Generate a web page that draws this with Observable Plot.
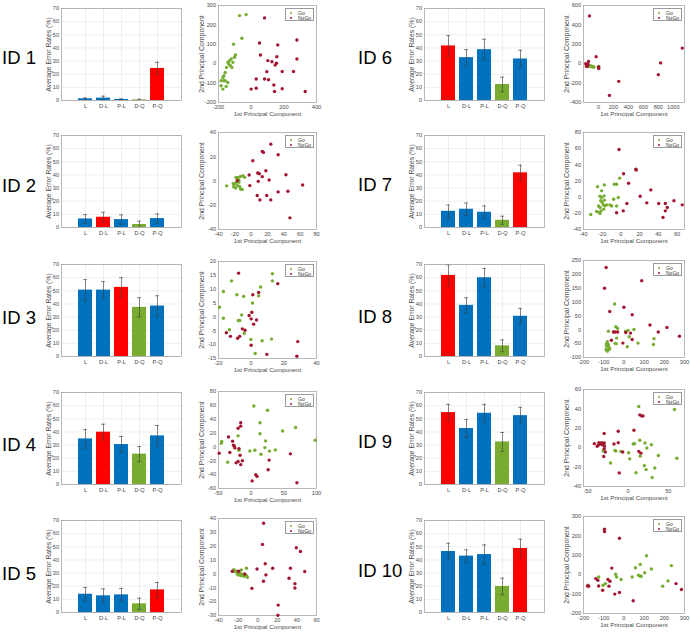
<!DOCTYPE html>
<html><head><meta charset="utf-8">
<script src="https://cdn.jsdelivr.net/npm/d3@7"></script>
<script src="https://cdn.jsdelivr.net/npm/@observablehq/plot@0.6"></script>
<style>
body{margin:0;background:#fff;}
#fig{position:relative;width:690px;height:634px;overflow:hidden;background:#fff;font-family:"Liberation Sans",Arial,Helvetica,sans-serif;}
.panel{position:absolute;}
.idlabel{position:absolute;font-size:18.5px;line-height:19px;color:#000;white-space:nowrap;transform:translateY(-50%);}
.legend{position:absolute;width:29px;height:13px;border:0.6px solid #9a9a9a;background:#fff;box-sizing:border-box;font-size:5px;color:#333;}
.legend .row{position:absolute;left:0;height:6px;line-height:6px;white-space:nowrap;}
.legend .dot{position:absolute;left:4px;top:2px;width:2px;height:2px;border-radius:50%;}
.legend .txt{position:absolute;left:12px;top:0;}
</style></head><body><div id="fig"></div>
<script>
// ---------------- data ----------------
const subjects = ["ID 1","ID 2","ID 3","ID 4","ID 5","ID 6","ID 7","ID 8","ID 9","ID 10"];
const conditions = ["L","D-L","P-L","D-Q","P-Q"];
const errorRate = [
  [1.3,1.8,0.8,0.5,24.4],
  [6.5,7.8,6.0,2.3,6.8],
  [50.5,50.5,52.6,37.4,38.4],
  [34.7,39.8,30.4,23.1,37.0],
  [13.9,12.7,13.4,6.6,17.2],
  [41.5,32.6,38.7,12.2,31.6],
  [12.3,13.9,11.6,5.5,41.6],
  [61.7,38.9,59.9,8.1,30.6],
  [54.7,42.6,54.2,32.4,52.4],
  [46.4,42.9,44.1,19.8,48.7]
];
const errorBar = [
  [0.7,1.5,0.5,0.5,4.6],
  [3.3,3.8,3.6,2.5,3.5],
  [8.0,6.4,7.3,7.3,7.8],
  [7.1,6.1,6.1,5.8,7.9],
  [5.1,5.3,4.9,4.3,5.6],
  [7.9,6.1,7.9,5.6,6.6],
  [4.8,4.7,4.8,3.1,5.8],
  [8.0,5.8,7.1,4.5,6.0],
  [6.3,6.8,6.8,7.2,6.3],
  [6.3,4.8,7.4,6.3,7.1]
];
const rateTicks = [0,10,20,30,40,50,60,70];
const rateDomain = [0,70];

const goPoints = [
  [[-71,248],[-31,253],[-57,131],[-108,100],[-96,45],[-102,33],[-112,7],[-122,24],[-133,16],[-137,-2],[-127,-10],[-118,-19],[-143,7],[-151,-19],[-159,-45],[-167,-62],[-159,-88],[-173,-71],[-184,-88],[-143,-97],[-184,-114],[-173,-131],[-153,-117],[-167,-88]],
  [[-30,-4],[-18.6,3],[-17,1.6],[-16,3],[-13,3.8],[-10,4.4],[-8,3],[-20,-2.5],[-21.5,-4.7],[-19,-5.8],[-16.5,-3.8],[-14,-4.7],[-13,-6.6],[-11,-7],[-15,-1],[-18,-1],[-22,-2],[-15,0.8]],
  [[-19.4,3.5],[-17,9.2],[-17,-0.5],[-12,13],[-13.3,-4.6],[-8.75,8],[-7.9,-1.3],[-7,-1.3],[-4.6,7.4],[-5.8,0.7],[-4.2,-6],[-0.2,-8.1],[0.8,5],[4.6,7.6],[5.8,10.8],[6.7,-8.6],[2.5,-13.2],[13,15.6],[13,13],[12.5,-8]],
  [[4,59],[25,53],[-45.6,5.3],[-45,8],[13.5,35],[13.5,19],[68,28],[48,23],[98,9.7],[22,8.7],[21,-1],[28,-6],[37,-4.3],[5.7,-4.8],[-2,-5.8],[15,-10.6],[-36,-22],[-20,16],[-18.7,-4.8]],
  [[-24.4,3.1],[-22,2.2],[-20.2,1.2],[-18.5,0.5],[-16.7,0],[-15,-0.5],[-13.2,-0.7],[-11.5,-1.2],[-10.5,-2.4],[-11.5,4.1],[-16.7,2.9],[-23.7,1.7],[-20.9,0],[-19.5,-0.7],[-17.4,-1.2],[-16,-1.2],[-13.9,-1.7]],
  [[-150,-15],[-130,-20],[-120,-25],[-110,-22],[-100,-30],[-90,-25],[-80,-30],[-75,-35],[-70,-28],[-60,-35],[5,-28],[0,-35]],
  [[-32.3,-21.4],[-25,13],[-20.6,7.8],[-17.7,15.2],[-7,16],[-4.6,16],[-1.4,23.5],[-7.8,-2.5],[-2.8,-0.4],[-4.6,-11],[-22.3,1.2],[-20.6,-0.4],[-18,1.6],[-21.6,-4.5],[-19.9,-6.6],[-18.8,-9.5],[-24,-11],[-22.3,-12.8],[-17,-10.7],[-15.2,-9.5],[-11.7,-9.5],[-9.9,-11],[-21.3,-16.9],[-18.4,-14.8],[-25.9,-17.7],[-23.4,-19],[-22.3,-20],[-17.7,-3.7]],
  [[-46,93],[-40,11],[-31,5],[-77,-5],[-43,-49],[-38,-50],[-82,-43],[-86,-50],[-77,-53],[-86,-59],[-74,-62],[-77,-71],[-70,-69],[-82,-77],[-88,-71],[9,-5],[21,-2],[50,1],[26,-25],[17,-61],[70,-48],[149,-32],[146,-53],[-36,-30]],
  [[13.4,42.5],[57.6,39.4],[-16,-2.8],[-21.6,-15.7],[-8.7,-3.8],[0.9,-5.2],[2.2,-11.5],[8.2,4.2],[6.5,3.8],[14.7,7.7],[21.2,4.9],[29,3.1],[23.4,-0.3],[37.7,-8],[60.6,-10.8],[33.3,-20.9],[22.5,-22.6],[20.3,-18.5],[10,-25.8],[15.2,-8.7],[30,-30.7],[-15,-3.5],[-30.7,-3.1]],
  [[-177,-54],[-125,-12],[-91,-46],[-41,2],[-36,-12],[-14,-25],[41,-12],[57,36],[72,-3],[86,-8],[81,53],[103,10],[112,98],[136,29],[81,-8],[192,-59],[218,-32],[235,47],[-103,-54]]
];
const noGoPoints = [
  [[82,236],[51,107],[57,45],[163,97],[280,122],[102,16],[127,10],[157,36],[155,2],[147,-7],[96,-41],[190,-40],[259,-40],[31,-79],[82,-79],[106,-83],[139,-110],[190,-129],[31,-126],[0,-131],[143,-143],[331,-143],[280,24]],
  [[24,30.4],[13.6,24.4],[15,23.6],[33,21.6],[2,16.7],[18,8.5],[8,6.6],[10,6],[-2.5,5],[42.6,5.2],[13.6,3.6],[22,0.8],[8.7,-0.3],[-1.7,-3.8],[63,-3.3],[33,-9],[45,-8.5],[7.4,-12],[19,-12],[10.7,-15.6],[24,-15.6],[47.5,-30.4],[-17,0.3]],
  [[-7.7,15.8],[-15.2,-5.7],[-12.7,-7],[-8.3,-7.7],[-7,-7],[-5.4,-4.3],[-3.75,-4.8],[-1.25,0.5],[0.4,1.7],[1,8],[4.6,8.8],[0,-0.7],[1.5,-2.6],[3.3,-1.1],[0,-10.2],[9.6,-13.5],[16.3,12],[28.5,-8.9],[28,-14.2]],
  [[-49,-9],[-34.7,14.5],[-32.6,-8],[-28.5,8.2],[-27,2.4],[-25,-1.4],[-26,1.4],[-23,-23],[-20,-21],[-20,27],[-16,35],[-16,30],[-18.7,-2.4],[-17,-12],[-16,-25.6],[-13.5,-20],[1.5,-49],[7,-40],[9,-42.5],[26,-33],[27.5,-19],[60,-10],[70,-51.7]],
  [[-26,1.9],[-19.5,1.9],[-13.2,0],[6,36.6],[4.9,21.3],[7.7,7.3],[-0.7,3.6],[15.3,4.1],[8.4,-0.7],[5.9,-5.3],[-5.9,-10.4],[20.9,-22.5],[20.6,-29.8],[39.4,18.9],[43.6,16.2],[33.4,4.1],[48,1.7],[32,-3.1],[38,-7],[38,-10.2]],
  [[-120,493],[-31,71],[-133,22],[-170,0],[-155,-20],[-160,-25],[-150,-30],[-140,-5],[0,-33],[4,-50],[1120,161],[831,8],[800,-113],[271,-182],[147,-327]],
  [[-2,59],[2.8,29],[16,34.6],[16.3,33.7],[8.2,17.3],[32,9],[20.6,1.2],[27.7,-7],[6.4,-7.8],[-4.6,-19.3],[2.5,-16.9],[40.4,-7.8],[47.5,-7.8],[49.6,-12.8],[47.5,-16.9],[45,-25],[56.7,-4.5],[65.6,-9.5]],
  [[-88,225],[-96,150],[88,177],[-70,66],[0,81.5],[41,54],[129,17],[213,8],[170,-8],[275,-23],[-52,-8],[-43,-8],[-31,-8],[33,-12],[9,-10],[41,-35],[-5,-48],[-62,-38]],
  [[-41.6,4.2],[-37,2.4],[-36,5.2],[-38,1.4],[-35,3.5],[-32.5,5.2],[-31.6,3.1],[-29.4,4.9],[-29,1.7],[-29.4,-1],[-28,-4.5],[-30,-9],[-29.4,14.6],[-12,17],[-17.3,3.8],[-12,5.2],[7.4,18],[14.7,33.8],[17,32.8],[18.6,32.8],[-6.5,-4.5],[13.4,-3.8],[16,-5.6],[-10.8,-26]],
  [[-96,234],[-96,222],[-22,188],[-60,34],[-125,-58],[-180,-58],[-174,-59],[-139,-20],[-129,-29],[-79,-25],[-69,-34],[-74,-59],[-105,-80],[-45,-100],[-22,-92],[46,-134],[258,-46],[285,-76]]
];
const pcXDomain = [[-200,400],[-40,80],[-20,40],[-50,100],[-40,60],[-200,1150],[-40,68],[-200,300],[-55,70],[-200,300]];
const pcYDomain = [[-200,300],[-40,40],[-15,20],[-60,80],[-30,40],[-400,600],[-40,80],[-100,250],[-40,60],[-200,300]];
const pcXTicks = [[-200,0,200,400],[-40,-20,0,20,40,60,80],[-20,0,20,40],[-50,0,50,100],[-40,-20,0,20,40,60],[0,200,400,600,800,1000],[-40,-20,0,20,40,60],[-200,-100,0,100,200,300],[-50,0,50],[-200,-100,0,100,200,300]];
const pcYTicks = [[-200,-100,0,100,200,300],[-40,-20,0,20,40],[-15,-10,-5,0,5,10,15,20],[-60,-40,-20,0,20,40,60,80],[-30,-20,-10,0,10,20,30,40],[-400,-200,0,200,400,600],[-40,-20,0,20,40,60,80],[-100,-50,0,50,100,150,200,250],[-40,-20,0,20,40,60],[-200,-100,0,100,200,300]];
const groupNames = ["Go","NoGo"];

// ---------------- layout & style ----------------
const FONT = "'Liberation Sans', Arial, Helvetica, sans-serif";
const BAR_BLUE = "#0072BD", BAR_RED = "#FF0000", BAR_GREEN = "#77AC30";
const DOT_GREEN = "#77AC30", DOT_RED = "#A2142F";
const FRAME = "#9a9a9a", TICKC = "#4a4a4a", GRID = "#e4e4e4";
const barLeft = [61, 424], barW = 120, barTop = [8, 135, 264, 392, 520], barH = 92;
const scLeft = [218, 583], scW = [98, 101];
const scTop = [[5,132,261,391,518],[5,132,260,389,516]], scH = 97;
const idLeft = [2, 358], idMid = [[57,185,317,444,573],[57,184,316,441,570]];

const fig = document.getElementById("fig");
function place(node, left, top) {
  const d = document.createElement("div");
  d.className = "panel";
  d.style.left = left + "px"; d.style.top = top + "px";
  d.appendChild(node); fig.appendChild(d); return d;
}
const fmt = d => String(d);

for (let k = 0; k < subjects.length; k++) {
  const col = k < 5 ? 0 : 1, row = k % 5;

  // ID label
  const lab = document.createElement("div");
  lab.className = "idlabel"; lab.textContent = subjects[k];
  lab.style.left = idLeft[col] + "px"; lab.style.top = idMid[col][row] + "px";
  fig.appendChild(lab);

  // ---- bar chart ----
  const vals = errorRate[k];
  const vmax = d3.max(vals), vmin = d3.min(vals);
  const bars = conditions.map((c, j) => ({c, v: vals[j], e: errorBar[k][j]}));
  const bml = 28, bmr = 2, bmt = 4, bmb = 12;
  const bar = Plot.plot({
    width: barW + bml + bmr, height: barH + bmt + bmb,
    marginLeft: bml, marginRight: bmr, marginTop: bmt, marginBottom: bmb,
    style: {fontFamily: FONT, fontSize: "5.6px", color: TICKC, background: "transparent", maxWidth: "none", overflow: "visible"},
    x: {domain: conditions, paddingInner: 0.2, paddingOuter: 0.8, label: null},
    y: {domain: rateDomain, label: null},
    marks: [
      Plot.gridY(rateTicks, {stroke: GRID, strokeOpacity: 1, strokeWidth: 0.6}),
      Plot.gridX(conditions, {stroke: GRID, strokeOpacity: 1, strokeWidth: 0.6}),
      Plot.barY(bars, {x: "c", y: "v", fill: d => d.v === vmax ? BAR_RED : d.v === vmin ? BAR_GREEN : BAR_BLUE}),
      Plot.ruleX(bars, {x: "c", y1: d => Math.max(0, d.v - d.e), y2: d => d.v + d.e, stroke: "#3a3a3a", strokeWidth: 0.6}),
      Plot.tickY(bars, {x: "c", y: d => d.v + d.e, insetLeft: 5, insetRight: 5, stroke: "#3a3a3a", strokeWidth: 0.6}),
      Plot.tickY(bars.filter(d => d.v - d.e > 0), {x: "c", y: d => d.v - d.e, insetLeft: 5, insetRight: 5, stroke: "#3a3a3a", strokeWidth: 0.6}),
      Plot.frame({stroke: FRAME, strokeWidth: 0.7}),
      Plot.axisY(rateTicks, {tickSize: 0, tickPadding: 2.5, tickFormat: fmt, label: null}),
      Plot.axisX(conditions, {tickSize: 0, tickPadding: 3.5, label: null}),
      Plot.text(["Average Error Rates (%)"], {frameAnchor: "left", textAnchor: "middle", rotate: -90, dx: -12.5, fontSize: 6.8, fill: TICKC})
    ]
  });
  place(bar, barLeft[col] - bml, barTop[row] - bmt);

  // ---- scatter ----
  const sml = 26, smr = 2, smt = 4, smb = 20;
  const sc = Plot.plot({
    width: scW[col] + sml + smr, height: scH + smt + smb,
    marginLeft: sml, marginRight: smr, marginTop: smt, marginBottom: smb,
    style: {fontFamily: FONT, fontSize: "5.6px", color: TICKC, background: "transparent", maxWidth: "none", overflow: "visible"},
    x: {domain: pcXDomain[k], label: null},
    y: {domain: pcYDomain[k], label: null},
    marks: [
      Plot.frame({stroke: FRAME, strokeWidth: 0.7}),
      Plot.axisX(pcXTicks[k], {tickSize: 0, tickPadding: 3, tickFormat: fmt, label: null}),
      Plot.axisY(pcYTicks[k], {tickSize: 0, tickPadding: 2.5, tickFormat: fmt, label: null}),
      Plot.dot(goPoints[k], {x: d => d[0], y: d => d[1], r: 1.7, fill: DOT_GREEN, stroke: "none"}),
      Plot.dot(noGoPoints[k], {x: d => d[0], y: d => d[1], r: 1.7, fill: DOT_RED, stroke: "none"}),
      Plot.text(["1st Principal Component"], {frameAnchor: "bottom", textAnchor: "middle", dy: 13.3, fontSize: 6.2, fill: TICKC}),
      Plot.text(["2nd Principal Component"], {frameAnchor: "left", textAnchor: "middle", rotate: -90, dx: -16.5, fontSize: 6.9, fill: TICKC})
    ]
  });
  place(sc, scLeft[col] - sml, scTop[col][row] - smt);

  // legend
  const lg = document.createElement("div");
  lg.className = "legend";
  lg.style.left = (scLeft[col] + scW[col] - 31) + "px";
  lg.style.top = (scTop[col][row] + 3) + "px";
  [DOT_GREEN, DOT_RED].forEach((c, i) => {
    const r = document.createElement("div"); r.className = "row"; r.style.top = (0.5 + i * 5.5) + "px";
    const dt = document.createElement("div"); dt.className = "dot"; dt.style.background = c;
    const tx = document.createElement("div"); tx.className = "txt"; tx.textContent = groupNames[i];
    r.appendChild(dt); r.appendChild(tx); lg.appendChild(r);
  });
  fig.appendChild(lg);
}
</script></body></html>
